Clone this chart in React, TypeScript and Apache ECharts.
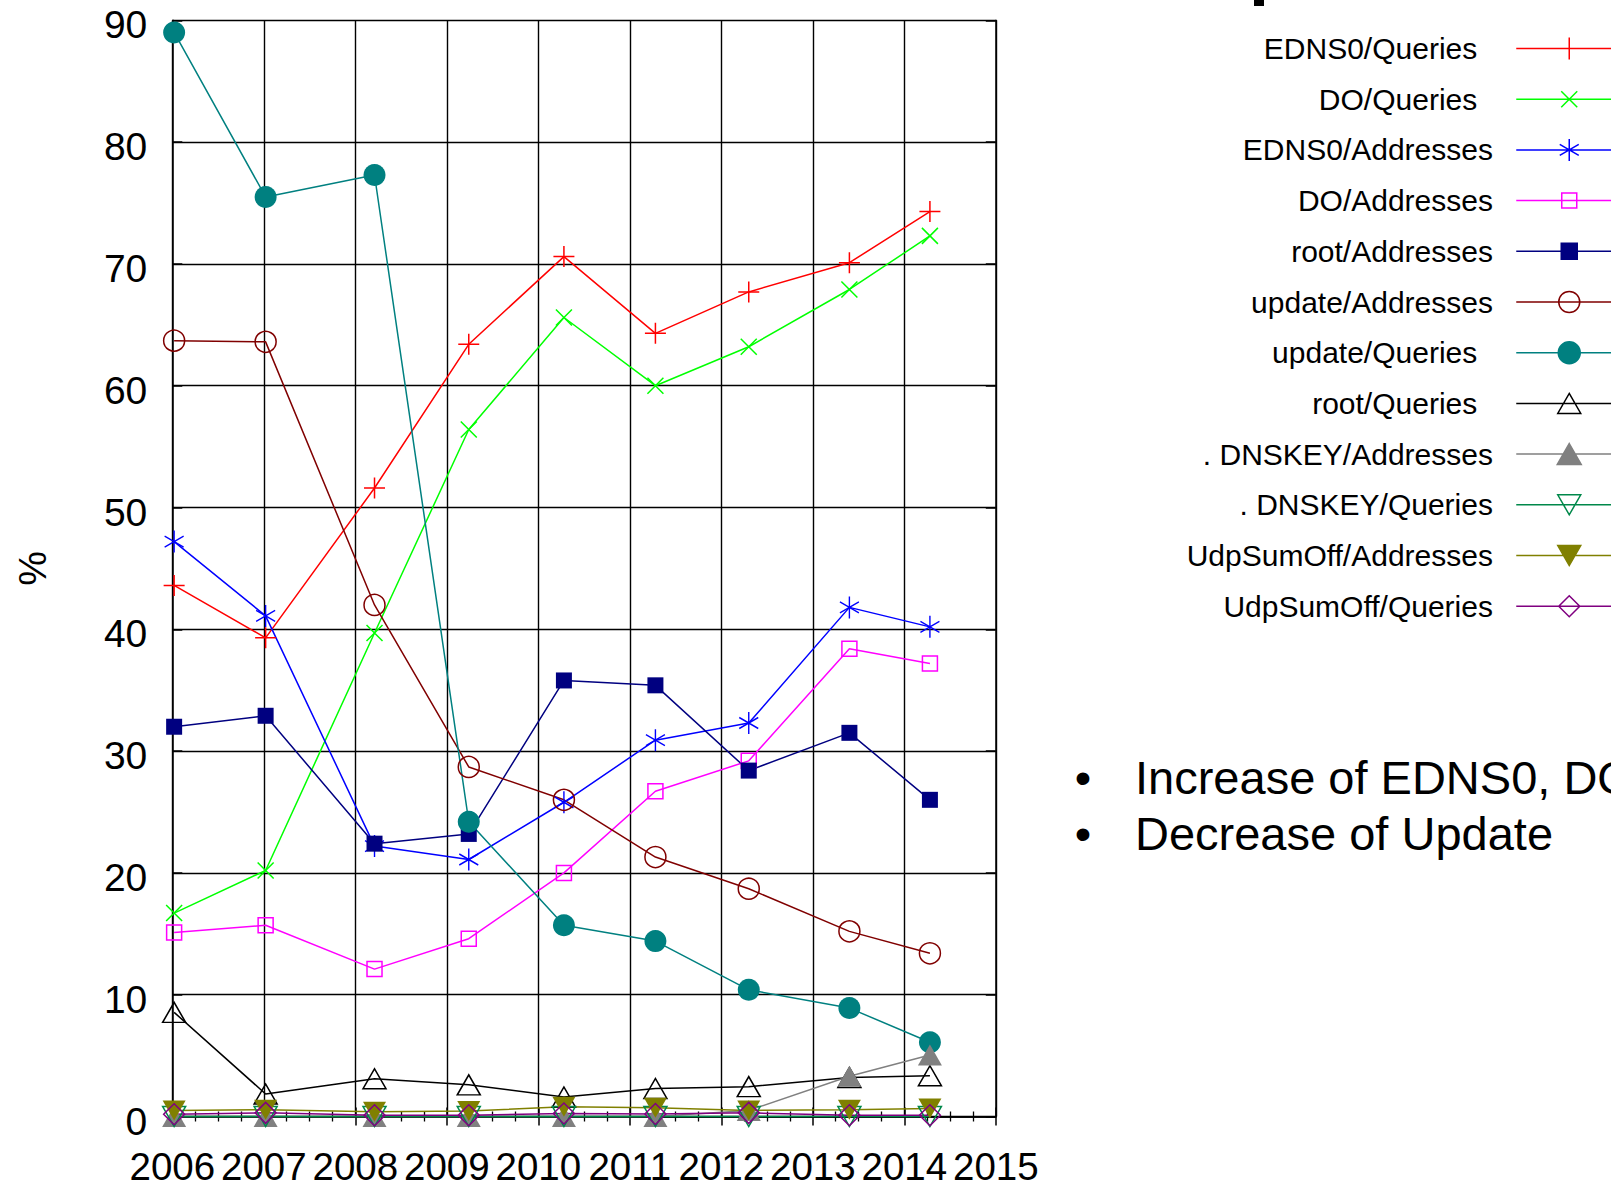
import React, { useEffect, useRef } from 'react';
import * as echarts from 'echarts';

// Sampling dates (fractional years) of each measurement
const sampleDates = [2006.02, 2007.02, 2008.21, 2009.24, 2010.28, 2011.28, 2012.3, 2013.4, 2014.28];

// Tick labels
const yearTicks = ['2006', '2007', '2008', '2009', '2010', '2011', '2012', '2013', '2014', '2015'];
const percentTicks = ['0', '10', '20', '30', '40', '50', '60', '70', '80', '90'];

// Series values (%)
const ednsQueries = [43.6, 39.3, 51.6, 63.4, 70.6, 64.3, 67.7, 70.1, 74.3];
const doQueries = [16.7, 20.2, 39.7, 56.4, 65.6, 60.0, 63.2, 67.9, 72.3];
const ednsAddresses = [47.2, 41.1, 22.2, 21.1, 25.8, 30.9, 32.3, 41.8, 40.2];
const doAddresses = [15.1, 15.7, 12.1, 14.6, 20.0, 26.7, 29.2, 38.4, 37.2];
const rootAddresses = [32.0, 32.9, 22.4, 23.2, 35.8, 35.4, 28.4, 31.5, 26.0];
const updateAddresses = [63.7, 63.6, 42.0, 28.7, 26.0, 21.3, 18.7, 15.2, 13.4];
const updateQueries = [89.0, 75.5, 77.3, 24.2, 15.7, 14.4, 10.4, 8.9, 6.1];
const rootQueries = [8.55, 1.85, 3.1, 2.6, 1.6, 2.3, 2.45, 3.2, 3.35];
const dnskeyAddresses = [0, 0, 0, 0, 0, 0, 0.5, 3.3, 5.05];
const dnskeyQueries = [0, 0, 0, 0, 0, 0, 0, 0, 0];
const udpSumOffAddresses = [0.5, 0.55, 0.4, 0.45, 0.8, 0.72, 0.5, 0.55, 0.65];
const udpSumOffQueries = [0.18, 0.3, 0.1, 0.1, 0.25, 0.2, 0.3, 0.1, 0.1];

const seriesNames = [
  'EDNS0/Queries',
  'DO/Queries',
  'EDNS0/Addresses',
  'DO/Addresses',
  'root/Addresses',
  'update/Addresses',
  'update/Queries',
  'root/Queries',
  '. DNSKEY/Addresses',
  '. DNSKEY/Queries',
  'UdpSumOff/Addresses',
  'UdpSumOff/Queries',
];
const seriesValues = [
  ednsQueries, doQueries, ednsAddresses, doAddresses, rootAddresses, updateAddresses,
  updateQueries, rootQueries, dnskeyAddresses, dnskeyQueries, udpSumOffAddresses, udpSumOffQueries,
];
const bullets = ['Increase of EDNS0, DO', 'Decrease of Update'];

const PLUS = 'path://M0,5L10,5M5,0L5,10';
const CROSS = 'path://M0,0L10,10M0,10L10,0';
const STAR = 'path://M5,0L5,10M0.67,2.5L9.33,7.5M0.67,7.5L9.33,2.5';

// Legend icons: a 106x27 box holding the key line and the marker at its centre
const BOX = 'M0,0L0,0M106,27L106,27M0,13.5L106,13.5';
const legendIcons = [
  `path://${BOX}M42,13.5L64,13.5M53,2.5L53,24.5`,
  `path://${BOX}M45,5.5L61,21.5M45,21.5L61,5.5`,
  `path://${BOX}M53,2.5L53,24.5M43.5,8L62.5,19M43.5,19L62.5,8`,
  `path://${BOX}M45.5,6L60.5,6L60.5,21L45.5,21Z`,
  `path://${BOX}M45,5.5L61,5.5L61,21.5L45,21.5Z`,
  `path://${BOX}M63.5,13.5A10.5,10.5,0,1,1,42.5,13.5A10.5,10.5,0,1,1,63.5,13.5Z`,
  `path://${BOX}M64,13.5A11,11,0,1,1,42,13.5A11,11,0,1,1,64,13.5Z`,
  `path://${BOX}M53,3.5L64.5,23.5L41.5,23.5Z`,
  `path://${BOX}M53,3L65,24L41,24Z`,
  `path://${BOX}M41.5,3.5L64.5,3.5L53,23.5Z`,
  `path://${BOX}M41.5,3.5L64.5,3.5L53,23.5Z`,
  `path://${BOX}M53,3L63.5,13.5L53,24L42.5,13.5Z`,
];

type Sty = { color: string; symbol: string; size: number | number[]; fill: 'stroke' | 'open' | 'solid'; rotate?: number };
const styles: Sty[] = [
  { color: '#ff0000', symbol: PLUS, size: 21, fill: 'stroke' },
  { color: '#00ff00', symbol: CROSS, size: 16, fill: 'stroke' },
  { color: '#0000ff', symbol: STAR, size: [19, 22], fill: 'stroke' },
  { color: '#ff00ff', symbol: 'rect', size: 15, fill: 'open' },
  { color: '#000080', symbol: 'rect', size: 16, fill: 'solid' },
  { color: '#800000', symbol: 'circle', size: 21, fill: 'open' },
  { color: '#008080', symbol: 'circle', size: 22, fill: 'solid' },
  { color: '#000000', symbol: 'triangle', size: [23, 20], fill: 'open' },
  { color: '#808080', symbol: 'triangle', size: [24, 21], fill: 'solid' },
  { color: '#00884a', symbol: 'triangle', size: [23, 20], fill: 'open', rotate: 180 },
  { color: '#808000', symbol: 'triangle', size: [23, 20], fill: 'solid', rotate: 180 },
  { color: '#800080', symbol: 'diamond', size: 21, fill: 'open' },
];
const shiftedLegend = ['EDNS0/Queries', 'DO/Queries', 'update/Queries', 'root/Queries'];

const FONT = '"Liberation Sans", Arial, Helvetica, sans-serif';

export default function App() {
  const ref = useRef<HTMLDivElement>(null);
  useEffect(() => {
    if (!ref.current) return;
    const chart = echarts.init(ref.current, undefined, { renderer: 'svg' });
    const series = seriesNames.map((name, i) => {
      const s = styles[i];
      return {
        name,
        type: 'line',
        data: sampleDates.map((d, j) => [d, seriesValues[i][j]]),
        symbol: s.symbol,
        symbolSize: s.size,
        symbolRotate: s.rotate || 0,
        showAllSymbol: true,
        clip: false,
        lineStyle: { color: s.color, width: 1.5 },
        itemStyle: {
          color: s.fill === 'open' ? 'rgba(255,255,255,0)' : s.color,
          borderColor: s.color,
          borderWidth: s.fill === 'solid' ? 0 : 1.5,
        },
        emphasis: { disabled: true },
        silent: true,
      };
    });
    const axisLineStyle = { color: '#000', width: 1.5 };
    chart.setOption({
      animation: false,
      textStyle: { fontFamily: FONT },
      grid: { left: 172.3, top: 20.3, width: 823.5, height: 1096.2, containLabel: false },
      xAxis: [
        {
          type: 'value', min: 2006, max: 2015, interval: 1, position: 'bottom',
          axisLine: { show: true, lineStyle: axisLineStyle },
          axisTick: { show: true, inside: true, length: 9, lineStyle: axisLineStyle },
          minorTick: { show: true, splitNumber: 4, length: 5, lineStyle: { color: '#000', width: 1.3 } },
          splitLine: { show: true, lineStyle: { color: '#000', width: 1.4 } },
          axisLabel: {
            fontSize: 38.5, color: '#000', margin: 36.7, lineHeight: 26, fontFamily: FONT,
            formatter: (v: number) => yearTicks[Math.round(v - 2006)] ?? String(v),
          },
        },
        {
          type: 'value', min: 2006, max: 2015, interval: 1, position: 'top',
          axisLine: { show: true, lineStyle: axisLineStyle },
          axisTick: { show: true, inside: true, length: 9, lineStyle: axisLineStyle },
          minorTick: { show: true, splitNumber: 4, length: 5, lineStyle: { color: '#000', width: 1.3 } },
          splitLine: { show: false },
          axisLabel: { show: false },
        },
      ],
      yAxis: [
        {
          type: 'value', min: 0, max: 90, interval: 10, position: 'left',
          axisLine: { show: true, lineStyle: axisLineStyle },
          axisTick: { show: true, inside: true, length: 10, lineStyle: axisLineStyle },
          splitLine: { show: true, lineStyle: { color: '#000', width: 1.4 } },
          axisLabel: {
            fontSize: 39, color: '#000', margin: 25, fontFamily: FONT,
            verticalAlign: 'top', lineHeight: 9,
            formatter: (v: number) => percentTicks[Math.round(v / 10)] ?? String(v),
          },
          name: '%', nameLocation: 'middle', nameGap: 120, nameRotate: 90,
          nameTextStyle: { fontSize: 39, color: '#000', fontFamily: FONT },
        },
        {
          type: 'value', min: 0, max: 90, interval: 10, position: 'right',
          axisLine: { show: true, lineStyle: axisLineStyle },
          axisTick: { show: true, inside: true, length: 10, lineStyle: axisLineStyle },
          splitLine: { show: false },
          axisLabel: { show: false },
        },
      ],
      legend: {
        orient: 'vertical', right: -12, top: 33.5, padding: 0, align: 'right',
        itemWidth: 106, itemHeight: 27, itemGap: 20.7, selectedMode: false,
        textStyle: { fontSize: 30, color: '#000', fontFamily: FONT },
        itemStyle: { borderWidth: 1.5 },
        lineStyle: { width: 1.5 },
        data: seriesNames.map((n, i) => ({
          name: n,
          icon: legendIcons[i],
          itemStyle: {
            color: styles[i].fill === 'open' ? 'rgba(255,255,255,0)' : styles[i].color,
            borderColor: styles[i].color,
            borderWidth: 1.5,
          },
          textStyle: { padding: [0, shiftedLegend.includes(n) ? 34 : 18.3, 0, 0] },
        })),
      },
      graphic: [
        { type: 'rect', shape: { x: 1254, y: 0, width: 10, height: 6 }, style: { fill: '#000' }, silent: true },
        ...bullets.flatMap((b, i) => [
          {
            type: 'text', x: 1083, y: 777 + i * 56.3, silent: true,
            style: { text: '\u2022', fill: '#000', font: `47px ${FONT}`, align: 'center', textAlign: 'center', verticalAlign: 'middle', textVerticalAlign: 'middle' },
          },
          {
            type: 'text', x: 1135, y: 777 + i * 56.3, silent: true,
            style: { text: b, fill: '#000', font: `47px ${FONT}`, align: 'left', textAlign: 'left', verticalAlign: 'middle', textVerticalAlign: 'middle' },
          },
        ]),
      ],
      series,
    });
    return () => chart.dispose();
  }, []);
  return (
    <div
      ref={ref}
      style={{ position: 'absolute', left: 0, top: 0, width: 1611, height: 1188, background: '#fff', overflow: 'hidden' }}
    />
  );
}
